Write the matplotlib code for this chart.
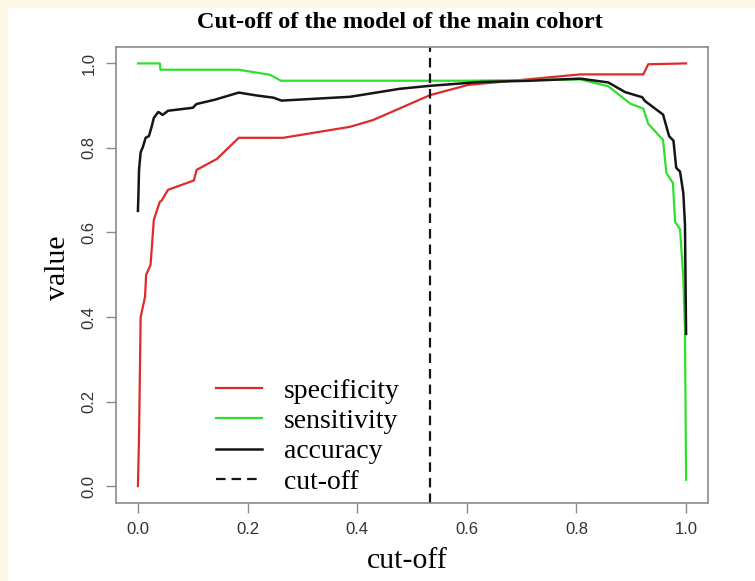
import matplotlib
matplotlib.use("Agg")
import matplotlib.pyplot as plt
from matplotlib.patches import Rectangle
from matplotlib.lines import Line2D

# ---- data ----
spec_x = [0.0, 0.002, 0.005, 0.013, 0.015, 0.023, 0.029, 0.040, 0.043, 0.055,
          0.102, 0.107, 0.144, 0.184, 0.265, 0.387, 0.429, 0.533, 0.602, 0.684,
          0.807, 0.922, 0.931, 1.0]
spec_y = [0.0, 0.116, 0.400, 0.448, 0.500, 0.523, 0.630, 0.673, 0.675, 0.701,
          0.723, 0.748, 0.774, 0.824, 0.824, 0.850, 0.866, 0.925, 0.949, 0.959,
          0.974, 0.974, 0.998, 1.0]

sens_x = [0.0, 0.040, 0.041, 0.184, 0.241, 0.261, 0.600, 0.807, 0.858, 0.898,
          0.922, 0.931, 0.958, 0.964, 0.976, 0.980, 0.989, 0.995, 0.998, 1.0]
sens_y = [1.0, 1.0, 0.985, 0.985, 0.973, 0.959, 0.959, 0.962, 0.946, 0.905,
          0.893, 0.857, 0.819, 0.741, 0.717, 0.625, 0.608, 0.492, 0.369, 0.015]

acc_x = [0.0, 0.001, 0.002, 0.005, 0.009, 0.014, 0.020, 0.025, 0.029, 0.037,
         0.040, 0.045, 0.055, 0.100, 0.107, 0.140, 0.184, 0.217, 0.247, 0.262,
         0.387, 0.478, 0.533, 0.624, 0.715, 0.807, 0.858, 0.889, 0.920, 0.925,
         0.958, 0.969, 0.977, 0.982, 0.989, 0.995, 0.998, 1.0]
acc_y = [0.651, 0.693, 0.748, 0.790, 0.802, 0.824, 0.828, 0.850, 0.871, 0.885,
         0.883, 0.878, 0.888, 0.895, 0.904, 0.914, 0.931, 0.924, 0.919, 0.912,
         0.921, 0.940, 0.947, 0.956, 0.959, 0.964, 0.955, 0.932, 0.920, 0.911,
         0.879, 0.828, 0.817, 0.753, 0.744, 0.693, 0.618, 0.360]

cutoff = 0.533

ticks = [0.0, 0.2, 0.4, 0.6, 0.8, 1.0]
tick_labels = ["0.0", "0.2", "0.4", "0.6", "0.8", "1.0"]
legend_labels = ["specificity", "sensitivity", "accuracy", "cut-off"]

# ---- figure ----
W, H = 755, 581
fig = plt.figure(figsize=(W / 100, H / 100), dpi=100)
fig.patch.set_facecolor("white")
cream = "#fdf8e4"
fig.patches.append(Rectangle((0, 1 - 8 / H), 1, 8 / H, transform=fig.transFigure,
                             facecolor=cream, edgecolor="none", zorder=0))
fig.patches.append(Rectangle((0, 0), 8 / W, 1, transform=fig.transFigure,
                             facecolor=cream, edgecolor="none", zorder=0))

left, right, top, bottom = 116 / W, 708 / W, 1 - 46.5 / H, 1 - 503 / H
ax = fig.add_axes([left, bottom, right - left, top - bottom])

red = "#e02a2a"
green = "#2ee02e"
black = "#151515"
dash = (0, (4.3, 2.7))

ax.plot(spec_x, spec_y, color=red, lw=1.6)
ax.plot(sens_x, sens_y, color=green, lw=1.6)
ax.plot(acc_x, acc_y, color=black, lw=1.8)
ax.axvline(cutoff, color=black, lw=1.6, ls=dash)

ax.set_xlim(-0.04, 1.04)
ax.set_ylim(-0.04, 1.04)

for s in ax.spines.values():
    s.set_color("#8a8a8a")
    s.set_linewidth(1.2)

ax.set_xticks(ticks)
ax.set_xticklabels(tick_labels)
ax.set_yticks(ticks)
ax.set_yticklabels(tick_labels, rotation=90, va="center")
ax.tick_params(axis="both", direction="out", length=7, width=1.0, color="#8a8a8a",
               labelsize=12, labelcolor="#333333", pad=7)
for lab in ax.get_xticklabels() + ax.get_yticklabels():
    lab.set_family("Liberation Sans")

serif = "Liberation Serif"
fig.text(400 / W, 1 - 22 / H, "Cut-off of the model of the main cohort",
         fontfamily=serif, fontweight="bold", fontsize=17.5,
         ha="center", va="center")
fig.text(407 / W, 1 - 561 / H, "cut-off", fontfamily=serif, fontsize=21.5,
         ha="center", va="center")
fig.text(58 / W, 1 - 268 / H, "value", fontfamily=serif, fontsize=21.5,
         ha="center", va="center", rotation=90)

handles = [Line2D([], [], color=red, lw=1.6),
           Line2D([], [], color=green, lw=1.6),
           Line2D([], [], color=black, lw=1.8),
           Line2D([], [], color=black, lw=1.6, ls=dash)]
ax.legend(handles, legend_labels, loc="upper left",
          bbox_to_anchor=(0.150, 0.298), frameon=False,
          prop={"family": serif, "size": 20},
          handlelength=1.65, handletextpad=0.8, labelspacing=0.18,
          borderaxespad=0)

fig.savefig("out.png", dpi=100, facecolor=fig.get_facecolor())
